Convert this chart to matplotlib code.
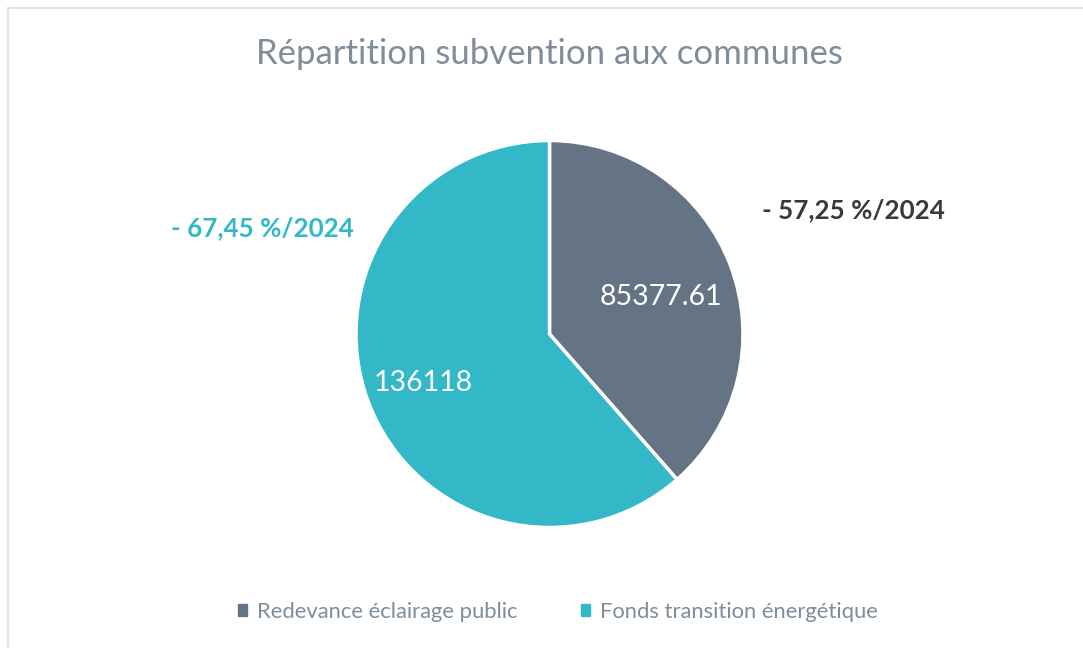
import matplotlib
matplotlib.use("Agg")
import matplotlib.pyplot as plt
from matplotlib.patches import Rectangle
from matplotlib.lines import Line2D

plt.rcParams['font.family'] = ['Lato', 'DejaVu Sans']

# data
labels = ['Redevance éclairage public', 'Fonds transition énergétique']
values = [85377.61, 136118]
value_text = ['85377.61', '136118']
colors = ['#647484', '#32B8C6']
notes = ['- 57,25 %/2024', '- 67,45 %/2024']
note_colors = ['#343A40', '#32B8C6']
title = 'Répartition subvention aux communes'

W, H = 1083, 648
fig = plt.figure(figsize=(W / 100, H / 100), dpi=100)
fig.patch.set_facecolor('white')

# frame lines (top and left visible)
fig.add_artist(Line2D([7.5 / W, 1], [1 - 8 / H, 1 - 8 / H], color='#DADEE2', lw=1.2))
fig.add_artist(Line2D([7.5 / W, 7.5 / W], [0, 1 - 8 / H], color='#DADEE2', lw=1.2))

# pie axes
cx, cy, r = 549.5, 334, 193.5
ax = fig.add_axes([(cx - r) / W, (H - cy - r) / H, 2 * r / W, 2 * r / H])
wedges, _ = ax.pie(values, colors=colors, startangle=90, counterclock=False,
                   wedgeprops=dict(edgecolor='white', linewidth=2.5))
ax.set_xlim(-1, 1)
ax.set_ylim(-1, 1)
ax.set_aspect('equal')
ax.axis('off')

# value labels inside slices
label_pos = [(661, 297), (423, 383)]
for (x, y), t in zip(label_pos, value_text):
    fig.text(x / W, 1 - y / H, t, ha='center', va='center', color='white', fontsize=20.5)

# comparison notes
note_pos = [(853, 210), (262, 228)]
for (x, y), t, c in zip(note_pos, notes, note_colors):
    fig.text(x / W, 1 - y / H, t, ha='center', va='center', color=c, fontsize=18.7,
             fontweight='bold')

fig.text(549 / W, 1 - 54 / H, title, ha='center', va='center', color='#7F8C99',
         fontsize=25)

# legend
handles = [Rectangle((0, 0), 1, 1, color=c) for c in colors]
fig.legend(handles, labels, loc='center', bbox_to_anchor=(558 / W, 1 - 612 / H),
           ncol=2, frameon=False, fontsize=15.8, labelcolor='#7F8C99',
           handlelength=0.42, handleheight=0.42, handletextpad=0.45, columnspacing=2.9)

fig.savefig('out.png', dpi=100, facecolor='white')
